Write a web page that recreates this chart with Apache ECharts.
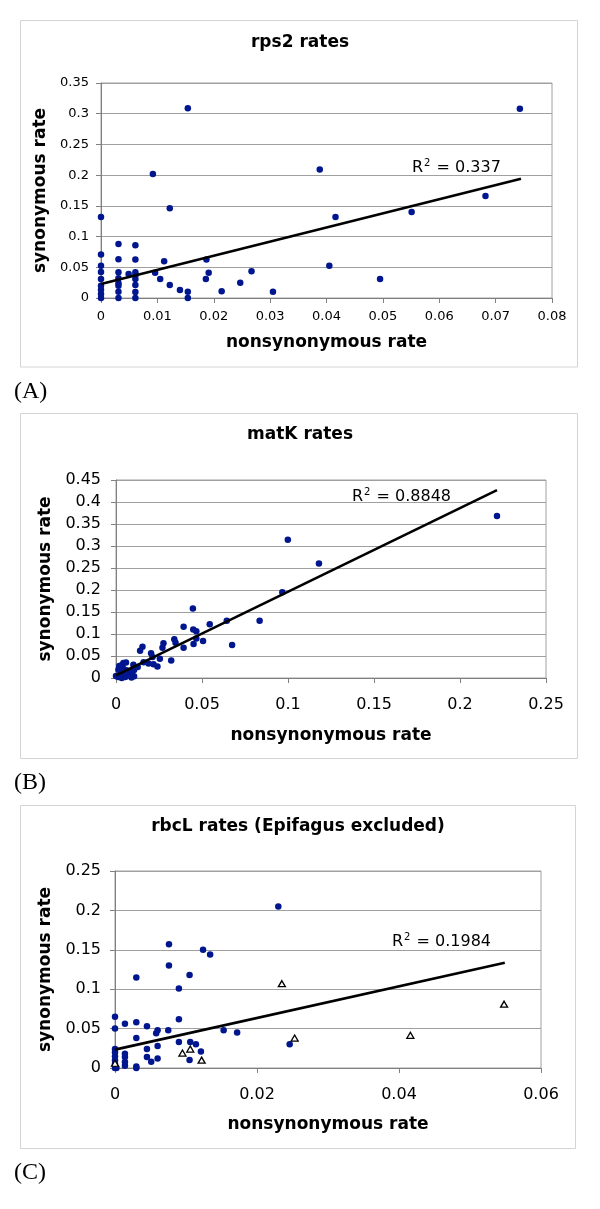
<!DOCTYPE html>
<html><head><meta charset="utf-8">
<script src="https://cdn.jsdelivr.net/npm/echarts@6/dist/echarts.min.js"></script>
<style>html,body{margin:0;padding:0;background:#fff}#c{width:600px;height:1209px}</style>
</head><body><div id="c"></div>
<script>
// ---- Panel A: rps2 rates ----
const rps2Points = [
  [0,0.132],[0,0.0707],[0,0.0527],[0,0.0424],[0,0.031],[0,0.02],[0,0.0136],[0,0.0065],[0,0],
  [0.0031,0.088],[0.0031,0.063],[0.0031,0.042],[0.0031,0.032],[0.0031,0.024],[0.0031,0.02],[0.0031,0.01],[0.0031,0],
  [0.0061,0.086],[0.0061,0.0625],[0.0061,0.042],[0.0061,0.037],[0.0061,0.031],[0.0061,0.021],[0.0061,0.0098],[0.0061,0],
  [0.0049,0.039],[0.0092,0.202],[0.0096,0.041],[0.0105,0.031],[0.0112,0.060],[0.0122,0.146],[0.0122,0.021],
  [0.014,0.013],[0.0154,0.309],[0.0154,0.010],[0.0154,0],[0.0186,0.031],[0.0187,0.0625],[0.0191,0.041],
  [0.0214,0.011],[0.0247,0.025],[0.0267,0.0435],[0.0305,0.0103],[0.0388,0.209],[0.0405,0.0527],
  [0.0416,0.132],[0.0495,0.031],[0.0551,0.140],[0.0682,0.166],[0.0743,0.308]
];
const rps2Trend = [[0,0.0228],[0.0745,0.194]];
const rps2R2 = '0.337';

// ---- Panel B: matK rates ----
const matkPoints = [
  [0.2215,0.368],[0.0999,0.314],[0.118,0.260],[0.0967,0.195],[0.0447,0.158],[0.0545,0.122],[0.0644,0.130],
  [0.0835,0.130],[0.0393,0.1165],[0.0449,0.110],[0.0467,0.106],[0.0467,0.090],[0.0506,0.084],[0.0675,0.075],
  [0.0451,0.077],[0.0393,0.069],[0.0339,0.088],[0.0346,0.080],[0.0276,0.079],[0.027,0.069],[0.0321,0.040],
  [0.0255,0.044],[0.0241,0.026],[0.0204,0.056],[0.0212,0.048],[0.0218,0.031],[0.0189,0.033],[0.0154,0.071],
  [0.014,0.062],[0.016,0.036],[0.0126,0.025],[0.0105,0.018],[0.0101,0.030],[0.0091,0.010],[0.009,0.001],
  [0.0076,0.006],[0.0058,0.035],[0.0043,0.034],[0.0033,0.029],[0.0019,0.027],[0.0014,0.019],[0.0027,0.014],
  [0.0043,0.010],[0.0054,0.002],[0.0033,0],[0.0012,0.002],[0,0.0046],[0.0062,0.0175],[0.0082,0.0145],
  [0.0043,0.021],[0.0105,0.004]
];
const matkTrend = [[0,0.006],[0.2215,0.427]];
const matkR2 = '0.8848';

// ---- Panel C: rbcL rates (Epifagus excluded) ----
const rbclPoints = [
  [0.023,0.205],[0.0076,0.157],[0.0076,0.130],[0.0124,0.150],[0.0134,0.144],[0.003,0.115],[0.0105,0.118],
  [0.009,0.101],[0.009,0.062],[0,0.065],[0,0.05],[0.0014,0.056],[0.003,0.058],[0.0045,0.053],[0.006,0.048],
  [0.0058,0.044],[0.0075,0.048],[0.003,0.038],[0.0153,0.048],[0.0172,0.045],[0.009,0.033],[0.0106,0.033],
  [0.0114,0.030],[0.0121,0.021],[0.0105,0.010],[0.006,0.028],[0.006,0.012],[0.0045,0.024],[0.0045,0.014],
  [0.0051,0.008],[0.003,0.002],[0.003,0],[0.0014,0.018],[0.0014,0.014],[0.0014,0.0076],[0.0014,0.003],
  [0,0.024],[0,0.020],[0,0.015],[0,0.0097],[0,0.005],[0,0],[0.0002,0],[0.0246,0.030]
];
const rbclTriangles = [
  [0,0.006],[0.0095,0.019],[0.0106,0.024],[0.0122,0.010],[0.0235,0.107],[0.0253,0.038],[0.0416,0.0415],[0.0548,0.081]
];
const rbclTrend = [[0,0.0233],[0.0549,0.1335]];
const rbclR2 = '0.1984';

const titles = ['rps2 rates','matK rates','rbcL rates (Epifagus excluded)'];
const panelLabels = ['(A)','(B)','(C)'];
const xName = 'nonsynonymous rate';
const yName = 'synonymous rate';

const FONT = 'DejaVu Sans';
const BLUE = '#00168f';
const GRIDC = '#a0a0a0';
const AXC = '#808080';

const panels = [
  {grid:{left:101,top:83,width:451,height:215}, xMax:0.08, xInt:0.01, yMax:0.35, yInt:0.05,
   tick:13, xMargin:12, yMargin:12, xGap:36, yGap:45, box:[20.5,20.5,557,346.5],
   title:[300,43], r2:[412,168], label:[14,392]},
  {grid:{left:116,top:480,width:430,height:198}, xMax:0.25, xInt:0.05, yMax:0.45, yInt:0.05,
   tick:16, xMargin:19, yMargin:15, xGap:49, yGap:60, box:[20.5,413.5,557,345],
   title:[300,435], r2:[352,497], label:[14,783]},
  {grid:{left:115,top:871,width:426,height:197}, xMax:0.06, xInt:0.02, yMax:0.25, yInt:0.05,
   tick:16, xMargin:19, yMargin:14, xGap:48, yGap:60, box:[20.5,805.5,555,343],
   title:[298,827], r2:[392,942], label:[14,1173]}
];

const grids=[], xAxes=[], yAxes=[], graphics=[];
panels.forEach((p,i)=>{
  grids.push(Object.assign({show:true,borderColor:GRIDC,borderWidth:1,backgroundColor:'transparent'},p.grid));
  const nameStyle={fontFamily:FONT,fontWeight:'bold',fontSize:17,color:'#000'};
  xAxes.push({gridIndex:i,type:'value',min:0,max:p.xMax,interval:p.xInt,
    name:xName,nameLocation:'middle',nameGap:p.xGap,nameTextStyle:nameStyle,
    axisLine:{lineStyle:{color:AXC,width:1}},axisTick:{show:true,length:5,lineStyle:{color:AXC}},
    splitLine:{show:false},
    axisLabel:{fontFamily:FONT,fontSize:p.tick,color:'#000',margin:p.xMargin}});
  yAxes.push({gridIndex:i,type:'value',min:0,max:p.yMax,interval:p.yInt,
    name:yName,nameLocation:'middle',nameGap:p.yGap,nameTextStyle:nameStyle,
    axisLine:{show:true,lineStyle:{color:AXC,width:1}},axisTick:{show:true,length:5,lineStyle:{color:AXC}},
    splitLine:{show:true,lineStyle:{color:GRIDC,width:1}},
    axisLabel:{fontFamily:FONT,fontSize:p.tick,color:'#000',margin:p.yMargin}});
  graphics.push({type:'rect',shape:{x:p.box[0],y:p.box[1],width:p.box[2],height:p.box[3]},
    style:{fill:'none',stroke:'#d4d4d4',lineWidth:1},z:0,silent:true});
  graphics.push({type:'text',x:p.title[0],y:p.title[1],
    style:{text:titles[i],font:'bold 17px "'+FONT+'"',fill:'#000',textAlign:'center',textVerticalAlign:'middle'}});
  graphics.push({type:'text',x:p.label[0],y:p.label[1],
    style:{text:panelLabels[i],font:'24px "Liberation Serif"',fill:'#000',textAlign:'left',textVerticalAlign:'middle'}});
  const r2v=[rps2R2,matkR2,rbclR2][i];
  graphics.push({type:'text',x:p.r2[0],y:p.r2[1],z:50,
    style:{text:'{a|R}{s|2}{a| = '+r2v+'}',textAlign:'left',textVerticalAlign:'middle',
      rich:{a:{fontFamily:FONT,fontSize:16,color:'#000',lineHeight:20},
            s:{fontFamily:FONT,fontSize:10,color:'#000',padding:[0,1,9,1]}}}});
});

const dotSeries=(data,i)=>({type:'scatter',xAxisIndex:i,yAxisIndex:i,data:data,symbol:'circle',symbolSize:6.5,
  itemStyle:{color:BLUE,opacity:1},z:3,silent:true});
const trendSeries=(data,i)=>({type:'line',xAxisIndex:i,yAxisIndex:i,data:data,symbol:'none',
  lineStyle:{color:'#000',width:2.6},z:4,silent:true});

const series=[
  dotSeries(rps2Points,0), trendSeries(rps2Trend,0),
  dotSeries(matkPoints,1), trendSeries(matkTrend,1),
  dotSeries(rbclPoints,2),
  {type:'scatter',xAxisIndex:2,yAxisIndex:2,data:rbclTriangles,symbol:'triangle',symbolSize:[7,6],
   itemStyle:{color:'#fff',borderColor:'#000',borderWidth:1.3,opacity:1},z:3,silent:true},
  trendSeries(rbclTrend,2)
];

const chart=echarts.init(document.getElementById('c'),null,{renderer:'canvas'});
chart.setOption({animation:false,backgroundColor:'#fff',grid:grids,xAxis:xAxes,yAxis:yAxes,series:series,graphic:graphics});
</script></body></html>
